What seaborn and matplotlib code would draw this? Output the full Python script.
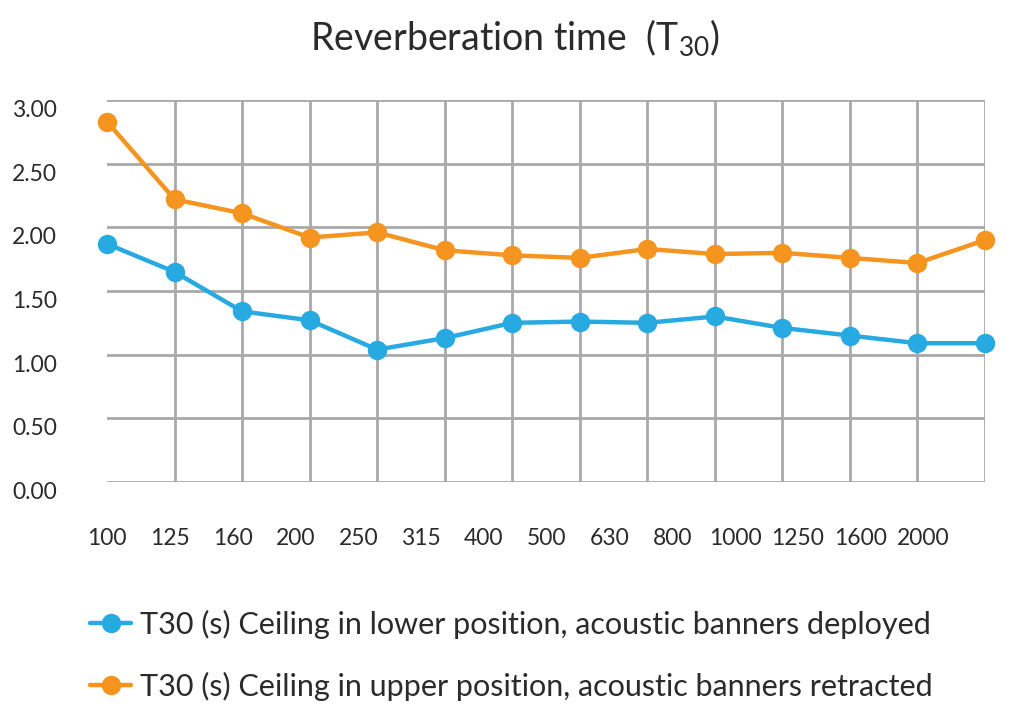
import numpy as np
import pandas as pd
import matplotlib
matplotlib.use("Agg")
import matplotlib.pyplot as plt
import seaborn as sns
from matplotlib.lines import Line2D

freqs = ["100", "125", "160", "200", "250", "315", "400", "500", "630", "800",
         "1000", "1250", "1600", "2000"]
lower_deployed = [1.87, 1.65, 1.34, 1.27, 1.04, 1.13, 1.25, 1.26, 1.25, 1.30,
                  1.21, 1.15, 1.09, 1.09]
upper_retracted = [2.83, 2.22, 2.11, 1.92, 1.96, 1.82, 1.78, 1.76, 1.83, 1.79,
                   1.80, 1.76, 1.72, 1.90]
series_names = ["T30 (s) Ceiling in lower position, acoustic banners deployed",
                "T30 (s) Ceiling in upper position, acoustic banners retracted"]
yticks = [0.0, 0.5, 1.0, 1.5, 2.0, 2.5, 3.0]

sns.set_theme(style="white")
FONT = "Lato"
plt.rcParams["font.family"] = [FONT, "DejaVu Sans"]
plt.rcParams["mathtext.fontset"] = "custom"
plt.rcParams["mathtext.rm"] = FONT
plt.rcParams["mathtext.it"] = FONT

blue = "#27a9e1"
orange = "#f5941f"
grid_c = "#a9a9a9"
text_c = "#2b2b2b"

idx = np.arange(len(freqs))
df = pd.DataFrame({
    "idx": np.concatenate([idx, idx]),
    "T30": lower_deployed + upper_retracted,
    "series": [series_names[0]] * len(freqs) + [series_names[1]] * len(freqs),
})

fig = plt.figure(figsize=(10.24, 7.28), dpi=100)
ax = fig.add_axes([107 / 1024, 1 - 482 / 728, (985 - 107) / 1024, (482 - 100) / 728])

sns.lineplot(data=df, x="idx", y="T30", hue="series",
             palette={series_names[0]: blue, series_names[1]: orange},
             marker="o", markersize=14, markeredgewidth=0, linewidth=3.2,
             legend=False, ax=ax, zorder=3, clip_on=False)

ax.set_xlim(0, len(freqs) - 1)
ax.set_ylim(0, 3)
for s in ax.spines.values():
    s.set_visible(False)

# grid
ax.set_xticks(idx, minor=True)
ax.set_yticks(yticks)
ax.grid(which="minor", axis="x", color=grid_c, linewidth=2.0, zorder=0)
ax.grid(which="major", axis="y", color=grid_c, linewidth=2.0, zorder=0)
ax.grid(which="major", axis="x", visible=False)
ax.set_axisbelow(True)

# tick labels (slightly compressed spacing as in the reference)
ax.set_xticks(idx * 0.93)
ax.set_xticklabels(freqs, fontsize=16.5, color=text_c)
ax.set_yticklabels([f"{v:.2f}" for v in yticks], fontsize=16.5, color=text_c)
for lab in ax.get_yticklabels():
    lab.set_va("top")
ax.tick_params(axis="x", which="both", length=0, pad=33)
ax.tick_params(axis="y", which="both", length=0, pad=36)
ax.set_xlabel("")
ax.set_ylabel("")

fig.text(0.503, 0.948, r"Reverberation time  (T$_{\mathregular{30}}$)",
         ha="center", va="center", fontsize=27, color=text_c)

handles = [Line2D([], [], color=blue, marker="o", markersize=14, markeredgewidth=0, linewidth=3.2),
           Line2D([], [], color=orange, marker="o", markersize=14, markeredgewidth=0, linewidth=3.2)]
fig.legend(handles, series_names, loc="upper left", bbox_to_anchor=(90 / 1024, 1 - 610 / 728),
           frameon=False, fontsize=22, handlelength=1.35, handletextpad=0.3,
           labelspacing=1.06, borderpad=0, borderaxespad=0, labelcolor=text_c)

fig.savefig("out.png", dpi=100)
